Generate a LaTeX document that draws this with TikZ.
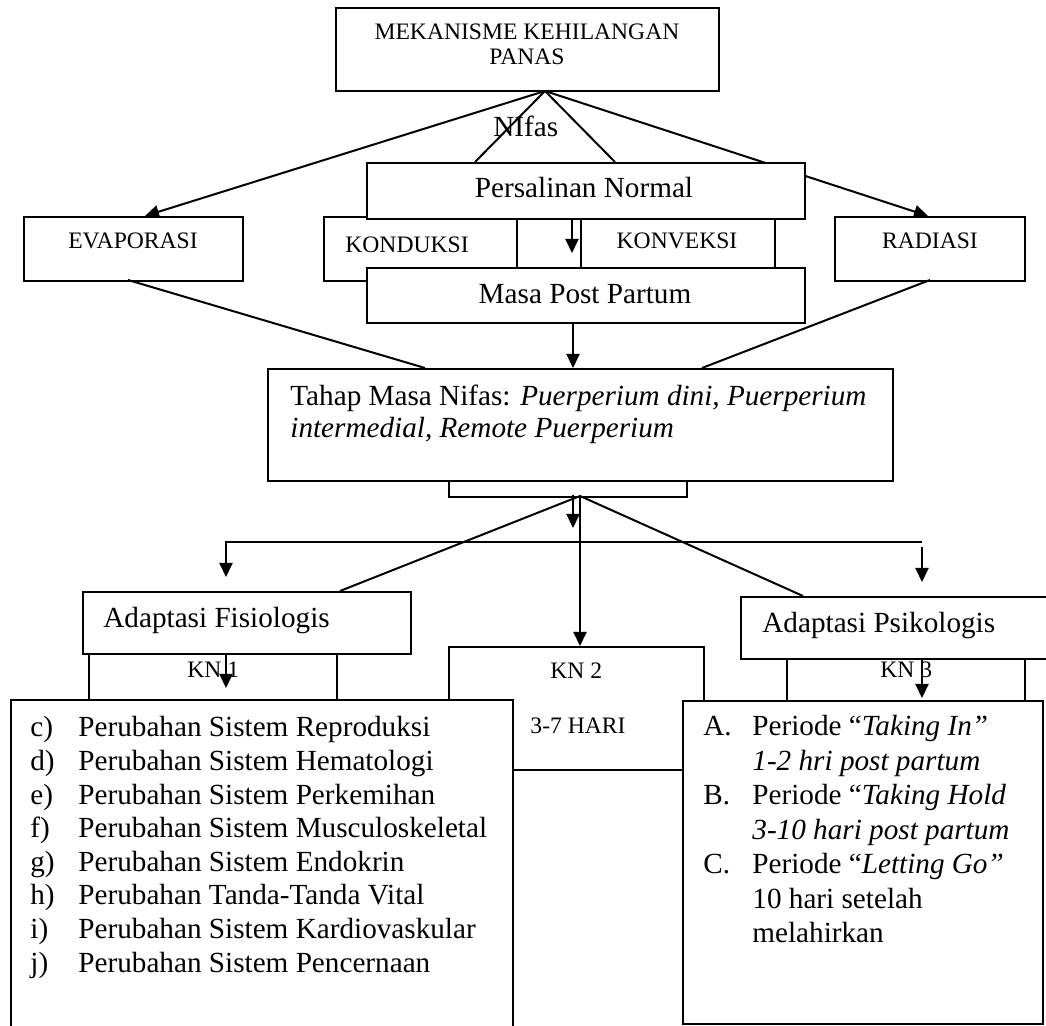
\documentclass[tikz,border=0pt]{standalone}
\usepackage{fontspec}
\setmainfont{Liberation Serif}
\usetikzlibrary{arrows.meta}
\newcommand\fntL{\fontsize{14.6pt}{16.8pt}\selectfont}
\newcommand\fntS{\fontsize{11.8pt}{13pt}\selectfont}
\begin{document}
\begin{tikzpicture}[x=0.5pt,y=-0.5pt,
 box/.style={draw, line width=1pt, fill=white, inner sep=0pt, anchor=north west},
 conn/.style={line width=1pt},
 arr/.style={line width=1pt, -{Triangle[length=7pt,width=6.5pt]}},
 big/.style={inner sep=0pt, font=\fntL},
 sml/.style={inner sep=0pt, font=\fntS}]
\useasboundingbox (0,0) rectangle (1046,1026);
\fill[white] (0,0) rectangle (1046,1026);
\clip (0,0) rectangle (1046,1026);

% ---------- top part ----------
\node[box, minimum width=191.5pt, minimum height=41.5pt] (mek) at (335,7) {};
\node[sml, anchor=base] (mekA) at (527,40) {MEKANISME KEHILANGAN};
\node[sml, anchor=base] (mekB) at (527,65) {PANAS};
\coordinate (apexA) at (545,91);

\coordinate (hidA) at (475,162);
\coordinate (hidB) at (615,162);
\coordinate (evapIn) at (145,216);
\coordinate (radIn) at (928,216);
\draw[conn] (apexA) -- (hidA);
\draw[conn] (apexA) -- (hidB);
\draw[arr] (apexA) -- (evapIn);
\draw[arr] (apexA) -- (radIn);
\node[big, anchor=base west] (nifas) at (493,137) {NIfas};

\node[box, minimum width=109.5pt, minimum height=32pt] (evap) at (23,216) {};
\node[sml, anchor=base] (evapT) at (133,249) {EVAPORASI};
\node[box, minimum width=95pt, minimum height=32pt] (rad) at (834,216) {};
\node[sml, anchor=base] (radT) at (930,249) {RADIASI};
\node[box, minimum width=96.5pt, minimum height=32pt] (kond) at (323,216) {};
\node[sml, anchor=base west] (kondT) at (345,253) {KONDUKSI};
\node[box, minimum width=97pt, minimum height=32pt] (konv) at (580,216) {};
\node[sml, anchor=base] (konvT) at (677,249) {KONVEKSI};

\node[box, minimum width=219pt, minimum height=28pt] (pers) at (366,162) {};
\node[big, anchor=base] (persT) at (584,198) {Persalinan Normal};
\coordinate (persOut) at (572,218);
\coordinate (midTip) at (572,253);
\draw[arr] (persOut) -- (midTip);

\node[box, minimum width=219pt, minimum height=27.5pt] (masa) at (366,267) {};
\node[big, anchor=base] (masaT) at (585,304) {Masa Post Partum};

% ---------- middle ----------
\coordinate (evapOut) at (128,280);
\coordinate (radOut) at (930,280);
\coordinate (tahapInL) at (425,368);
\coordinate (tahapInR) at (702,368);
\coordinate (masaOut) at (573,322);
\coordinate (tahapInM) at (573,368);
\draw[conn] (evapOut) -- (tahapInL);
\draw[conn] (radOut) -- (tahapInR);
\draw[arr] (masaOut) -- (tahapInM);

\node[box, minimum width=312.5pt, minimum height=56pt] (tahap) at (267,368) {};
\node[big, anchor=base west] (tahapA) at (290,406) {Tahap Masa Nifas: \textit{Puerperium dini, Puerperium}};
\node[big, anchor=base west] (tahapB) at (290,438) {\textit{intermedial, Remote Puerperium}};
\node[box, minimum width=119pt, minimum height=8pt] (under) at (448,480) {};

\coordinate (apexB) at (580,496);
\coordinate (shortS) at (573,495);
\coordinate (shortT) at (573,528);
\draw[arr] (shortS) -- (shortT);
\coordinate (fisIn) at (340,591);
\coordinate (psiIn) at (803,596);
\coordinate (kn2In) at (580,646);
\draw[conn] (apexB) -- (fisIn);
\draw[conn] (apexB) -- (psiIn);
\draw[arr] (apexB) -- (kn2In);

\coordinate (barL) at (226,542);
\coordinate (barR) at (922,542);
\coordinate (tipL) at (226,577);
\coordinate (rS) at (922,547);
\coordinate (tipR) at (922,582);
\draw[arr] (barR) -- (barL) -- (tipL);
\draw[arr] (rS) -- (tipR);

% ---------- bottom ----------
\node[box, minimum width=124pt, minimum height=23.5pt] (kn1) at (88,653) {};
\node[box, minimum width=119pt, minimum height=21pt] (kn3) at (786,658) {};
\node[box, minimum width=127.5pt, minimum height=61.5pt] (kn2) at (448,646) {};

\node[box, minimum width=164pt, minimum height=31pt] (fis) at (82,591) {};
\node[big, anchor=base west] (fisT) at (103,628) {Adaptasi Fisiologis};
\node[box, minimum width=155pt, minimum height=31pt] (psi) at (740,596) {};
\node[big, anchor=base west] (psiT) at (762,633) {Adaptasi Psikologis};

\node[box, minimum width=251pt, minimum height=172pt] (listL) at (10,699) {};
\node[box, minimum width=180pt, minimum height=161.5pt] (listR) at (682,700) {};

\node[sml, anchor=base west] (kn1T) at (187,678) {KN 1};
\node[sml, anchor=base west] (kn2T) at (550,679) {KN 2};
\node[sml, anchor=base] (kn2D) at (578,734) {3-7 HARI};
\node[sml, anchor=base west] (kn3T) at (880,678) {KN 3};

\coordinate (k1S) at (226,653);
\coordinate (k1T) at (226,688);
\coordinate (k3S) at (922,658);
\coordinate (k3T) at (922,698);
\draw[arr] (k1S) -- (k1T);
\draw[arr] (k3S) -- (k3T);

\foreach \lab/\txt [count=\i from 0] in {
  {c)}/{Perubahan Sistem Reproduksi},
  {d)}/{Perubahan Sistem Hematologi},
  {e)}/{Perubahan Sistem Perkemihan},
  {f)}/{Perubahan Sistem Musculoskeletal},
  {g)}/{Perubahan Sistem Endokrin},
  {h)}/{Perubahan Tanda-Tanda Vital},
  {i)}/{Perubahan Sistem Kardiovaskular},
  {j)}/{Perubahan Sistem Pencernaan}} {
  \node[big, anchor=base west] (lLab\i) at (30,{737+33.6*\i}) {\lab};
  \node[big, anchor=base west] (lTxt\i) at (78,{737+33.6*\i}) {\txt};
}

\foreach \lab/\txt [count=\i from 0] in {
  {A.}/{Periode “\textit{Taking In”}},
  {}/{\textit{1-2 hri post partum}},
  {B.}/{Periode “\textit{Taking Hold}},
  {}/{\textit{3-10 hari post partum}},
  {C.}/{Periode “\textit{Letting Go”}},
  {}/{10 hari setelah},
  {}/{melahirkan}} {
  \node[big, anchor=base west] (rLab\i) at (703,{736+34.5*\i}) {\lab};
  \node[big, anchor=base west] (rTxt\i) at (752,{736+34.5*\i}) {\txt};
}
\end{tikzpicture}
\end{document}
